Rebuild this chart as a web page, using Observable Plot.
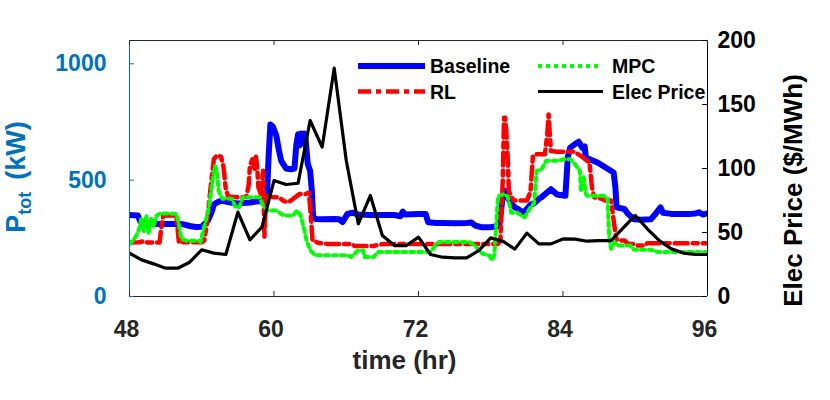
<!DOCTYPE html>
<html><head><meta charset="utf-8">
<script src="https://cdn.jsdelivr.net/npm/d3@7"></script>
<script src="https://cdn.jsdelivr.net/npm/@observablehq/plot@0.6"></script>
<style>html,body{margin:0;padding:0;background:#fff}</style>
</head><body><div id="chart"></div>
<script>
// ---- data: [hour, kW] ----
const baseline = [[48,350],[48.7,348],[48.9,322],[49.1,312],[50,312],[51,311],[52,312],[52.5,310],[53,303],[53.5,299],[54,300],[54.3,315],[54.5,326],[54.8,360],[55,395],[55.3,405],[55.6,411],[56,408],[56.5,403],[57,400],[57.5,402],[58,404],[58.5,408],[59,410],[59.4,412],[59.55,600],[59.7,739],[59.9,730],[60.2,690],[60.4,630],[60.6,583],[61,550],[61.4,547],[61.7,550],[61.85,650],[62,697],[62.15,650],[62.25,700],[62.4,660],[62.5,700],[62.6,690],[62.8,570],[63,540],[63.15,450],[63.25,340],[63.5,333],[64,332],[65,333],[65.4,332],[65.7,320],[66.1,355],[66.5,360],[67,352],[68,350],[69,350],[70,350],[70.5,345],[70.7,365],[70.9,352],[72,355],[72.6,354],[72.8,319],[73.5,316],[74,316],[75,315],[76,316],[76.4,318],[76.7,305],[77.2,298],[78,298],[78.6,303],[78.7,305],[79,430],[79.2,454],[79.4,426],[79.7,400],[80,383],[80.3,375],[80.6,362],[80.9,370],[81.3,395],[81.6,400],[82,420],[82.2,426],[83,461],[83.5,438],[84.2,433],[84.4,600],[84.6,640],[85,655],[85.3,665],[85.6,640],[85.8,645],[85.9,597],[86.9,575],[88.2,533],[88.35,470],[88.45,383],[89.1,376],[89.4,355],[89.9,332],[90.5,330],[91.3,332],[91.6,350],[92.1,383],[92.3,360],[93,355],[94,355],[94.6,355],[95,357],[95.3,362],[95.6,352],[96,357]];
const rl = [[48,232],[48.8,233],[49.2,238],[49.5,232],[50.5,232],[50.65,300],[50.8,348],[51.9,348],[52,290],[52.1,233],[54,233],[54.2,240],[54.4,300],[54.7,450],[55,590],[55.3,608],[55.6,600],[55.8,560],[56,460],[56.2,430],[57,426],[57.7,428],[57.9,480],[58,560],[58.2,590],[58.4,540],[58.5,600],[58.6,560],[58.7,470],[58.9,440],[59.1,540],[59.2,255],[59.35,430],[59.6,430],[60,426],[60.4,426],[60.8,410],[61.2,405],[61.6,420],[62.1,440],[62.6,440],[62.9,447],[63.05,350],[63.2,240],[63.7,230],[64.5,226],[66.4,226],[66.7,217],[68.3,217],[68.6,222],[69.2,226],[78.6,226],[78.8,240],[79,500],[79.1,768],[79.2,768],[79.3,700],[79.4,611],[79.5,454],[79.7,430],[79.9,412],[81,412],[81.3,450],[81.5,604],[81.7,611],[82.5,611],[82.7,700],[82.8,782],[82.9,700],[83,625],[83.5,622],[84.9,622],[85.5,604],[86.2,575],[86.4,470],[86.6,426],[87.2,420],[87.5,412],[88,412],[88.2,330],[88.4,255],[88.5,241],[89.1,241],[89.4,226],[89.9,226],[90.2,219],[90.8,219],[91,229],[96,229]];
const mpc = [[48,226],[48.3,240],[48.6,265],[48.8,290],[49,340],[49.2,280],[49.4,345],[49.6,270],[49.8,335],[50,300],[50.2,345],[50.5,355],[51,357],[51.9,355],[52.1,312],[52.3,248],[52.7,240],[53.8,240],[53.9,234],[54.2,300],[54.4,340],[54.6,383],[54.9,500],[55.1,561],[55.25,540],[55.4,454],[55.7,420],[56.5,420],[56.8,383],[57.1,383],[57.4,426],[58.8,426],[59.1,390],[59.5,369],[60.2,369],[60.8,348],[61.6,348],[61.9,369],[62.2,350],[62.5,290],[62.7,240],[63,200],[63.4,177],[66.1,177],[66.4,170],[67,198],[67.4,198],[67.5,170],[68.3,170],[68.6,191],[72.5,191],[73,192],[73.4,219],[73.7,234],[76.2,234],[76.7,219],[77.3,184],[77.9,175],[78.1,155],[78.3,180],[78.6,430],[79.1,440],[79.4,430],[79.7,360],[80.2,360],[80.8,340],[81.3,383],[81.6,400],[81.8,540],[82.2,545],[82.6,583],[83.5,583],[84.1,590],[84.6,590],[85,568],[85.4,540],[85.5,450],[85.7,520],[85.9,440],[86,433],[87.4,433],[87.7,420],[87.85,240],[88,205],[88.3,233],[88.5,219],[89.6,219],[89.9,201],[91.3,201],[91.9,191],[96,191]];
// ---- electricity price ($/MWh), hourly ----
const priceHours = [48,49,50,51,52,53,54,55,56,57,58,59,60,61,62,63,64,65,66,67,68,69,70,71,72,73,74,75,76,77,78,79,80,81,82,83,84,85,86,87,88,89,90,91,92,93,94,95,96];
const priceValues = [33.9,28.6,25.5,22.1,22.1,26.8,36.5,33.9,32.8,65.9,44.3,54.2,90.6,87.5,88.5,137.5,116.7,178.4,106.3,56.8,78.9,47.7,39.8,39.8,46.4,32.8,30.7,30.2,30.2,35.9,45.8,43.2,37,49.5,41.1,41.1,45,44.8,43.2,43.7,43.7,53.6,63.3,52.9,43.7,37.2,33.9,32.8,32.8];
// ---- ticks ----
const xTicks = [48,60,72,84,96];
const leftTicks = [0,500,1000];
const rightTicks = [0,50,100,150,200];

const yMax = 1100, pMax = 200, k = yMax / pMax;
const font = "'Liberation Sans', Arial, Helvetica, sans-serif";
const BLUE_AX = "#0072BD", DARK = "#262626";
const tY = 21.5, tX = 0.415; // 5px inward ticks in data units

const STY = {
  base: {stroke: "#0000FF", w: 6, dash: null},
  rl: {stroke: "#FF0000", w: 4.5, dash: "13,5,5,5"},
  mpc: {stroke: "#00FF00", w: 4, dash: "4,4"},
  price: {stroke: "black", w: 3.2, dash: null}
};

const toObj = a => a.map(([t, p]) => ({t, p}));
const price = priceHours.map((t, i) => ({t, p: priceValues[i] * k}));
const lineOpts = s => ({x: "t", y: "p", stroke: s.stroke, strokeWidth: s.w, strokeDasharray: s.dash, clip: true});

const chart = Plot.plot({
  width: 830, height: 400,
  marginLeft: 129, marginRight: 123, marginTop: 40, marginBottom: 104,
  x: {domain: [48, 96], axis: null},
  y: {domain: [0, yMax], axis: null},
  style: {fontFamily: font, background: "white"},
  marks: [
    Plot.line(toObj(baseline), lineOpts(STY.base)),
    Plot.line(toObj(rl), lineOpts(STY.rl)),
    Plot.line(toObj(mpc), lineOpts(STY.mpc)),
    Plot.line(price, lineOpts(STY.price)),
    // box
    Plot.ruleY([0, yMax], {stroke: DARK, strokeWidth: 1}),
    Plot.ruleX([48], {stroke: BLUE_AX, strokeWidth: 1}),
    Plot.ruleX([96], {stroke: "black", strokeWidth: 1}),
    // inward ticks
    Plot.ruleX(xTicks, {y1: 0, y2: tY, stroke: DARK}),
    Plot.ruleX(xTicks, {y1: yMax - tY, y2: yMax, stroke: DARK}),
    Plot.ruleY(leftTicks, {x1: 48, x2: 48 + tX, stroke: BLUE_AX}),
    Plot.ruleY(rightTicks, {y: d => d * k, x1: 96 - tX, x2: 96, stroke: "black"}),
    // tick labels
    Plot.text(xTicks, {x: d => d, frameAnchor: "bottom", lineAnchor: "top", dy: 24, dx: -3, text: d => String(d), fontSize: 23, fontWeight: "bold", fontFamily: font, fill: DARK}),
    Plot.text(leftTicks, {y: d => d, frameAnchor: "left", textAnchor: "end", dx: -23, text: d => String(d), fontSize: 23, fontWeight: "bold", fontFamily: font, fill: BLUE_AX}),
    Plot.text(rightTicks, {y: d => d * k, frameAnchor: "right", textAnchor: "start", dx: 10, text: d => String(d), fontSize: 23, fontWeight: "bold", fontFamily: font, fill: "black"}),
    // axis titles
    Plot.text(["time (hr)"], {frameAnchor: "bottom", textAnchor: "middle", dy: 72, dx: -14, text: d => d, fontSize: 26, fontWeight: "bold", fontFamily: font, fill: DARK}),
    Plot.text(["Elec Price ($/MWh)"], {frameAnchor: "right", textAnchor: "middle", dx: 86, dy: 22, rotate: -90, text: d => d, fontSize: 26, fontWeight: "bold", fontFamily: font, fill: "black"})
  ]
});
document.getElementById("chart").appendChild(chart);

// P_tot label with subscript
const svg = d3.select(chart);
const pl = svg.append("text")
  .attr("transform", "translate(25,177) rotate(-90)")
  .attr("text-anchor", "middle")
  .attr("font-family", font).attr("font-weight", "bold")
  .attr("font-size", 27).attr("fill", BLUE_AX);
pl.append("tspan").text("P");
pl.append("tspan").attr("font-size", 18).attr("dy", 6).text("tot");
pl.append("tspan").attr("dy", -6).attr("dx", 12).text("(kW)");

// legend
const legend = [
  {label: "Baseline", s: STY.base, x1: 358, x2: 425, y: 66, tx: 430},
  {label: "RL", s: STY.rl, x1: 358, x2: 425, y: 91.5, tx: 430},
  {label: "MPC", s: STY.mpc, x1: 538, x2: 602, y: 66, tx: 612},
  {label: "Elec Price", s: STY.price, x1: 538, x2: 603, y: 91.5, tx: 612}
];
const lg = svg.append("g").attr("text-anchor", "start");
legend.forEach(d => {
  lg.append("line").attr("x1", d.x1).attr("x2", d.x2).attr("y1", d.y).attr("y2", d.y)
    .attr("stroke", d.s.stroke).attr("stroke-width", d.s.w).attr("stroke-dasharray", d.s.dash);
  lg.append("text").attr("x", d.tx).attr("y", d.y + 7).attr("text-anchor", "start").attr("font-family", font)
    .attr("font-weight", "bold").attr("font-size", 19.5).attr("fill", "black").text(d.label);
});
</script></body></html>
